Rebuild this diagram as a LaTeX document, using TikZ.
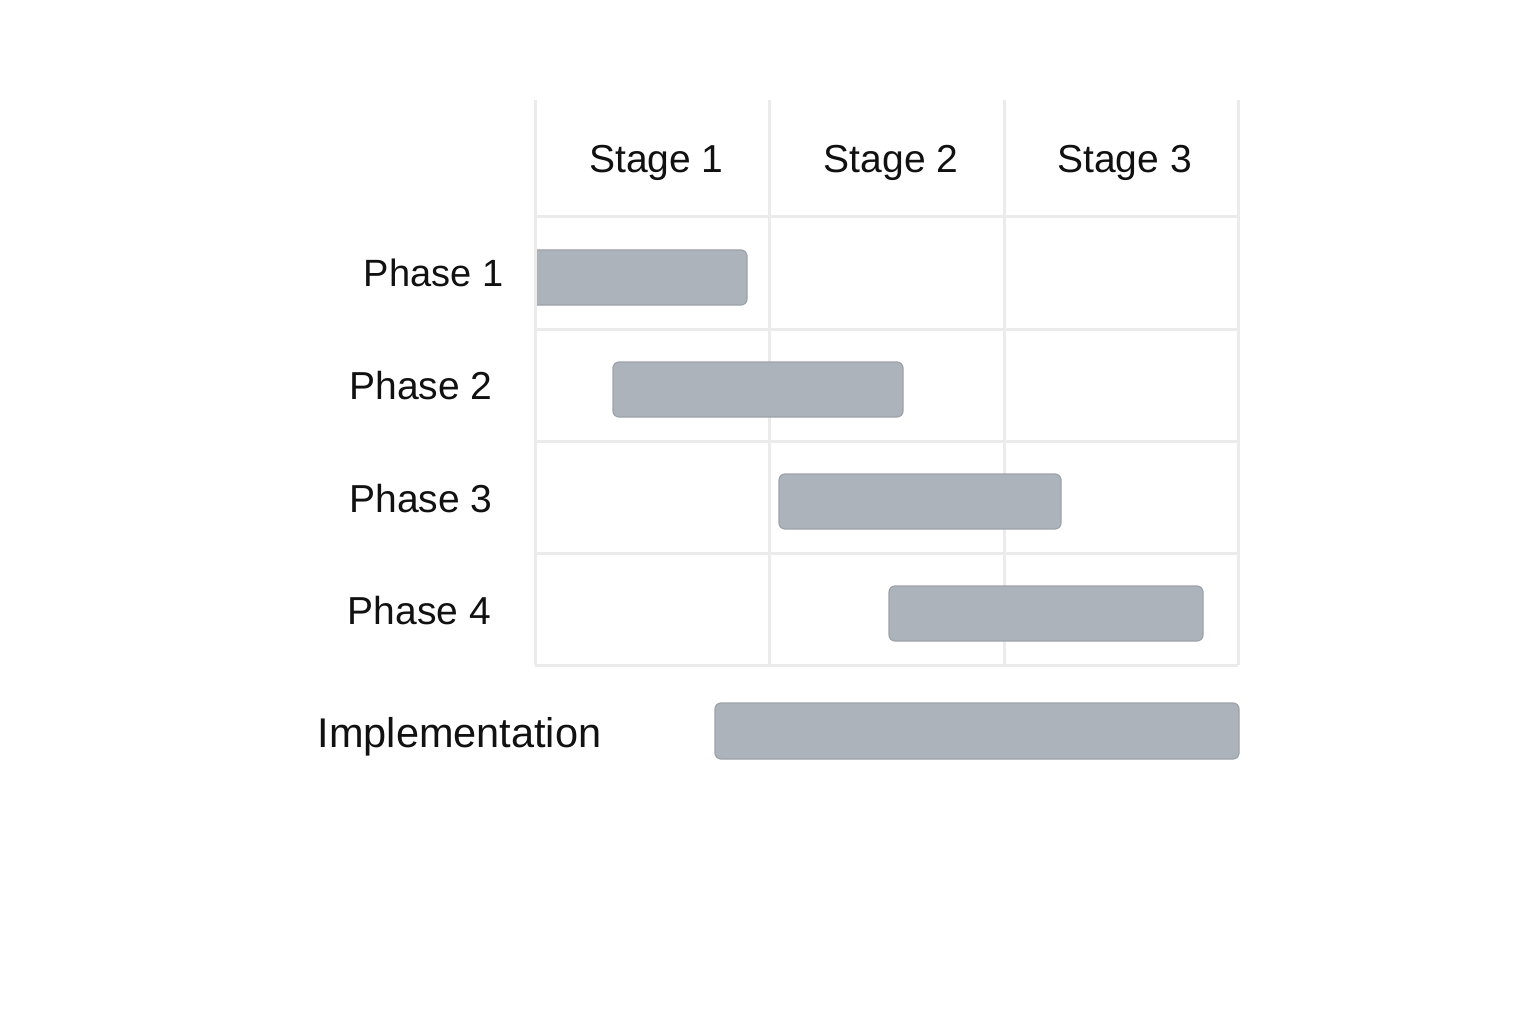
\documentclass[tikz,border=0pt]{standalone}
\usepackage{fontspec}
\setmainfont{Liberation Sans}
\definecolor{gridc}{HTML}{EBEBEB}
\definecolor{barfill}{HTML}{ADB3BA}
\definecolor{barline}{HTML}{9DA3AA}
\definecolor{txt}{HTML}{111111}
\tikzset{
  gridline/.style={draw=gridc, line width=3pt},
  bar/.style={fill=barfill, draw=barline, line width=1.2pt, rounded corners=6pt},
  lbl/.style={anchor=base, inner sep=0pt, text=txt, font=\fontsize{39}{46}\selectfont}
}
\begin{document}
\begin{tikzpicture}[x=1pt,y=-1pt]
\useasboundingbox[fill=white] (0,0) rectangle (1536,1024);
% grid
\foreach \x in {535,769,1004,1238} \draw[gridline] (\x,100) -- (\x,665);
\foreach \y in {217,329,441,553,665} \draw[gridline] (535,\y) -- (1238,\y);
% headers
\node[lbl] (s1) at (656.5,173) {Stage 1};
\node[lbl] (s2) at (891,173) {Stage 2};
\node[lbl] (s3) at (1124.5,173) {Stage 3};
% row labels
\node[lbl, font=\fontsize{38}{45}\selectfont] (p1) at (433.5,287) {Phase 1};
\node[lbl] (p2) at (421,399) {Phase 2};
\node[lbl] (p3) at (421,512) {Phase 3};
\node[lbl] (p4) at (419.5,624) {Phase 4};
\node[lbl, font=\fontsize{41.5}{48}\selectfont] (impl) at (459.5,747) {Implementation};
% bars
\path[fill=barfill] (537,250) -- (741,250) arc[start angle=-90, end angle=0, radius=6] -- (747,299) arc[start angle=0, end angle=90, radius=6] -- (537,305) -- cycle;
\draw[barline, line width=1.2pt] (537,250) -- (741,250) arc[start angle=-90, end angle=0, radius=6] -- (747,299) arc[start angle=0, end angle=90, radius=6] -- (537,305);
\draw[bar] (613,362) rectangle (903,417);
\draw[bar] (779,474) rectangle (1061,529);
\draw[bar] (889,586) rectangle (1203,641);
\draw[bar] (715,703) rectangle (1239,759);
\end{tikzpicture}
\end{document}
